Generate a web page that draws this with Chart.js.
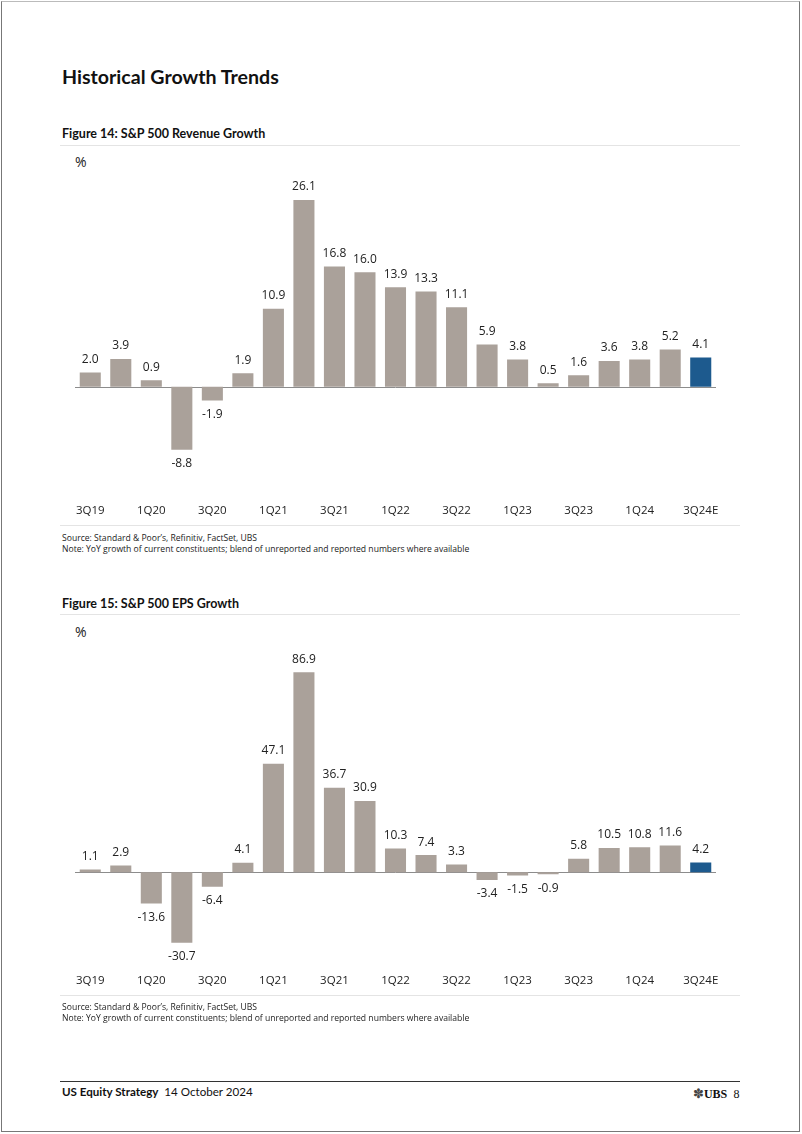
<!DOCTYPE html>
<html>
<head>
<meta charset="utf-8">
<script src="https://cdn.jsdelivr.net/npm/chart.js@4.4.1/dist/chart.umd.min.js"></script>
<style>
  html, body { margin: 0; padding: 0; background: #fff; }
  body { width: 802px; height: 1134px; position: relative; overflow: hidden; font-family: "Open Sans", "Noto Sans", sans-serif; color: #111; }
  .frame { position: absolute; left: 1px; top: 1px; width: 799px; height: 1131px; border-left: 1px solid #777; border-top: 1px solid #bbb; border-right: 1px solid #777; border-bottom: 1px solid #777; box-sizing: border-box; }
  .abs { position: absolute; white-space: nowrap; }
  .h1 { left: 62px; top: 65px; font-family: Lato, sans-serif; font-weight: 700; font-size: 19.6px; }
  .fig { left: 62px; font-family: Lato, sans-serif; font-weight: 700; font-size: 12.5px; }
  .rule { position: absolute; left: 60px; width: 680px; height: 1px; background: #e4e4e4; }
  .pct { left: 75px; font-size: 14px; color: #222; }
  .src { left: 62px; font-size: 8.6px; color: #222; line-height: 11px; }
  .canv { position: absolute; left: 60px; width: 680px; height: 382px; }
  .foot { left: 62px; top: 1085px; font-family: Lato, sans-serif; font-size: 11.6px; }
  .ubs { left: 693px; top: 1085px; font-size: 12px; }
</style>
</head>
<body>
<div class="frame"></div>
<div class="abs h1">Historical Growth Trends</div>

<div class="abs fig" style="top:126px;">Figure 14: S&amp;P 500 Revenue Growth</div>
<div class="rule" style="top:145px;"></div>
<div class="abs pct" style="top:152px;">%</div>
<div class="canv" style="top:150px;"><canvas id="c1" width="680" height="382"></canvas></div>
<div class="rule" style="top:525px;"></div>
<div class="abs src" style="top:533px;">Source: Standard &amp; Poor’s, Refinitiv, FactSet, UBS<br>Note: YoY growth of current constituents; blend of unreported and reported numbers where available</div>

<div class="abs fig" style="top:596px;">Figure 15: S&amp;P 500 EPS Growth</div>
<div class="rule" style="top:614px;"></div>
<div class="abs pct" style="top:622px;">%</div>
<div class="canv" style="top:620px;"><canvas id="c2" width="680" height="382"></canvas></div>
<div class="rule" style="top:995px;"></div>
<div class="abs src" style="top:1002px;">Source: Standard &amp; Poor’s, Refinitiv, FactSet, UBS<br>Note: YoY growth of current constituents; blend of unreported and reported numbers where available</div>

<div class="rule" style="top:1081px; background:#333;"></div>
<div class="abs foot"><b>US Equity Strategy</b>&nbsp;&nbsp;14 October 2024</div>
<div class="abs ubs"><span style="font-family:'DejaVu Sans';font-size:13px;color:#444;">✽</span><span style="font-family:'Liberation Serif';font-weight:700;font-size:12px;">UBS</span>&nbsp; <span style="font-family:'Liberation Serif';font-size:12px;">8</span></div>

<script>
const quarters = ["3Q19","4Q19","1Q20","2Q20","3Q20","4Q20","1Q21","2Q21","3Q21","4Q21","1Q22","2Q22","3Q22","4Q22","1Q23","2Q23","3Q23","4Q23","1Q24","2Q24","3Q24E"];
const revenueGrowth = [2.0,3.9,0.9,-8.8,-1.9,1.9,10.9,26.1,16.8,16.0,13.9,13.3,11.1,5.9,3.8,0.5,1.6,3.6,3.8,5.2,4.1];
const epsGrowth = [1.1,2.9,-13.6,-30.7,-6.4,4.1,47.1,86.9,36.7,30.9,10.3,7.4,3.3,-3.4,-1.5,-0.9,5.8,10.5,10.8,11.6,4.2];

const GREY = "#aaa19a";
const BLUE = "#1d5a8e";

const labelPlugin = {
  id: "valueLabels",
  beforeDatasetsDraw(chart) {
    const ctx = chart.ctx, ys = chart.scales.y, a = chart.chartArea;
    const y0 = Math.round(ys.getPixelForValue(0)) + 0.5;
    ctx.save();
    ctx.strokeStyle = "#8c8c8c";
    ctx.lineWidth = 1;
    ctx.beginPath();
    ctx.moveTo(a.left, y0);
    ctx.lineTo(a.right, y0);
    ctx.stroke();
    ctx.restore();
  },
  afterDatasetsDraw(chart) {
    const ctx = chart.ctx;
    const meta = chart.getDatasetMeta(0);
    const data = chart.data.datasets[0].data;
    ctx.save();
    ctx.font = "12px 'Open Sans'";
    ctx.fillStyle = "#222";
    ctx.textAlign = "center";
    ctx.textBaseline = "middle";
    meta.data.forEach((bar, i) => {
      const v = data[i];
      const y = v >= 0 ? bar.y - 13 : bar.y + 14;
      ctx.fillText(v.toFixed(1), bar.x, y);
    });
    ctx.restore();
  }
};

function makeChart(id, values, yMin, yMax) {
  return new Chart(document.getElementById(id), {
    type: "bar",
    data: {
      labels: quarters,
      datasets: [{
        data: values,
        backgroundColor: values.map((v, i) => i === values.length - 1 ? BLUE : GREY),
        barPercentage: 0.69,
        categoryPercentage: 1.0,
        borderWidth: 0
      }]
    },
    options: {
      responsive: false,
      animation: false,
      devicePixelRatio: 1,
      layout: { padding: { left: 15, right: 24, top: 22, bottom: 4 } },
      plugins: { legend: { display: false }, tooltip: { enabled: false } },
      scales: {
        x: {
          grid: { display: false, drawTicks: false },
          border: { display: false },
          ticks: {
            autoSkip: false,
            maxRotation: 0,
            padding: 10,
            color: "#222",
            font: { family: "Open Sans", size: 11.5 },
            callback: function (val, idx) { return idx % 2 === 0 ? quarters[idx] : ""; }
          }
        },
        y: {
          display: false,
          min: yMin,
          max: yMax
        }
      }
    },
    plugins: [labelPlugin]
  });
}

makeChart("c1", revenueGrowth, -15, 30);
makeChart("c2", epsGrowth, -40, 100);
</script>
</body>
</html>
